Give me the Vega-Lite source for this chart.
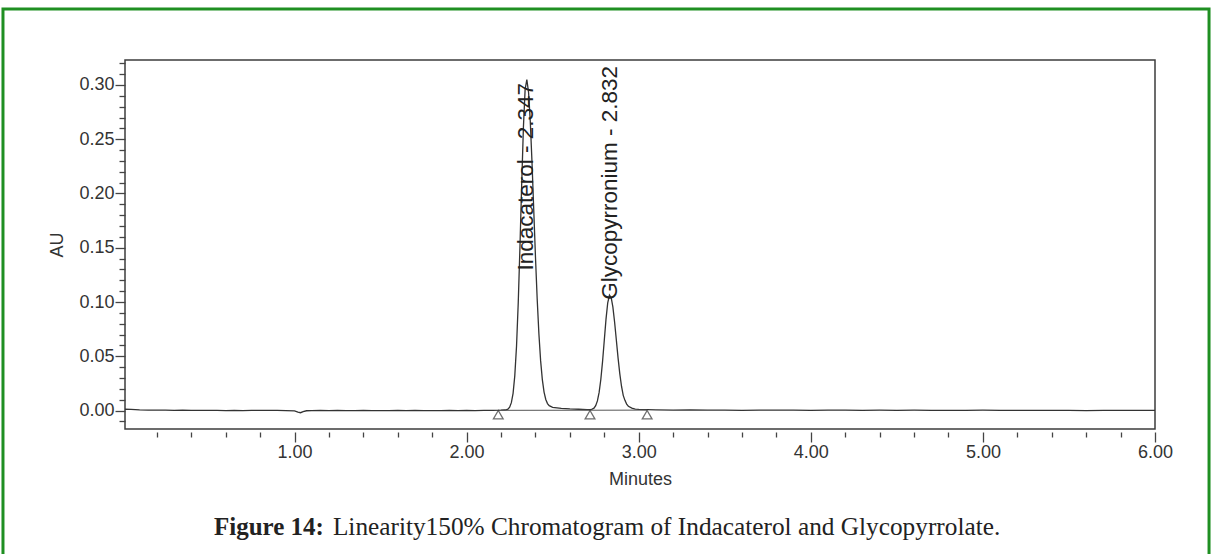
{
  "$schema": "https://vega.github.io/schema/vega-lite/v6.json",
  "width": 1030,
  "height": 369,
  "autosize": "none",
  "padding": {"left": 125, "top": 60, "right": 57, "bottom": 125},
  "background": "white",
  "config": {
    "view": {"stroke": "#3c3c3c", "strokeWidth": 1.5},
    "axis": {"grid": false, "labelFont": "Liberation Sans", "titleFont": "Liberation Sans", "labelColor": "#333", "titleColor": "#333", "tickColor": "#444", "tickWidth": 1.3, "labelFontSize": 18, "titleFontSize": 18, "titleFontWeight": "normal", "labelFlush": false, "labelOverlap": false}
  },
  "title": {
    "text": "Figure 14:",
    "subtitle": "\u200b\u2002\u2002\u2002\u2002\u2002\u2002\u2002\u2002\u2002\u2009Linearity150% Chromatogram of Indacaterol and Glycopyrrolate.",
    "orient": "bottom",
    "anchor": "start",
    "frame": "group",
    "offset": -42,
    "dx": 89,
    "font": "Liberation Serif",
    "fontSize": 25,
    "fontWeight": "bold",
    "color": "#222",
    "subtitleFont": "Liberation Serif",
    "subtitleFontSize": 25.3,
    "subtitleFontWeight": "normal",
    "subtitleColor": "#222",
    "subtitlePadding": -25
  },
  "datasets": {
    "signal": [
      {"t": 0.015, "v": 0.0012}, {"t": 0.05, "v": 0.0010}, {"t": 0.10, "v": 0.0006}, {"t": 0.15, "v": 0.0004},
      {"t": 0.20, "v": 0.0003}, {"t": 0.25, "v": 0.0003}, {"t": 0.30, "v": 0.0002}, {"t": 0.35, "v": 0.0003},
      {"t": 0.40, "v": 0.0002}, {"t": 0.45, "v": 0.0001}, {"t": 0.50, "v": 0.0002}, {"t": 0.55, "v": 0.0001},
      {"t": 0.60, "v": 0.0000}, {"t": 0.65, "v": 0.0001}, {"t": 0.70, "v": 0.0000}, {"t": 0.75, "v": 0.0001},
      {"t": 0.80, "v": 0.0002}, {"t": 0.85, "v": 0.0001}, {"t": 0.90, "v": 0.0001}, {"t": 0.95, "v": 0.0000},
      {"t": 1.00, "v": -0.0003}, {"t": 1.02, "v": -0.0014}, {"t": 1.035, "v": -0.0020}, {"t": 1.05, "v": -0.0010},
      {"t": 1.07, "v": -0.0002}, {"t": 1.10, "v": 0.0000}, {"t": 1.15, "v": 0.0001}, {"t": 1.20, "v": 0.0000},
      {"t": 1.25, "v": 0.0001}, {"t": 1.30, "v": -0.0001}, {"t": 1.35, "v": 0.0000}, {"t": 1.40, "v": 0.0001},
      {"t": 1.45, "v": 0.0000}, {"t": 1.50, "v": -0.0001}, {"t": 1.55, "v": 0.0000}, {"t": 1.60, "v": 0.0001},
      {"t": 1.65, "v": 0.0000}, {"t": 1.70, "v": 0.0001}, {"t": 1.75, "v": 0.0000}, {"t": 1.80, "v": -0.0001},
      {"t": 1.85, "v": 0.0000}, {"t": 1.90, "v": 0.0001}, {"t": 1.95, "v": 0.0000}, {"t": 2.00, "v": 0.0001},
      {"t": 2.05, "v": 0.0000}, {"t": 2.10, "v": 0.0001}, {"t": 2.15, "v": 0.0002}, {"t": 2.20, "v": 0.0003},
      {"t": 2.22, "v": 0.0005}, {"t": 2.23, "v": 0.0006}, {"t": 2.24, "v": 0.0013}, {"t": 2.25, "v": 0.0031},
      {"t": 2.26, "v": 0.0073}, {"t": 2.27, "v": 0.0159}, {"t": 2.28, "v": 0.0322}, {"t": 2.29, "v": 0.0593},
      {"t": 2.30, "v": 0.0993}, {"t": 2.31, "v": 0.1510}, {"t": 2.32, "v": 0.2083}, {"t": 2.33, "v": 0.2607},
      {"t": 2.34, "v": 0.2959}, {"t": 2.35, "v": 0.3050}, {"t": 2.36, "v": 0.2931}, {"t": 2.37, "v": 0.2662},
      {"t": 2.38, "v": 0.2285}, {"t": 2.39, "v": 0.1853}, {"t": 2.40, "v": 0.1420}, {"t": 2.41, "v": 0.1030},
      {"t": 2.42, "v": 0.0707}, {"t": 2.43, "v": 0.0460}, {"t": 2.44, "v": 0.0285}, {"t": 2.45, "v": 0.0170},
      {"t": 2.46, "v": 0.0102}, {"t": 2.47, "v": 0.0064}, {"t": 2.48, "v": 0.0045}, {"t": 2.50, "v": 0.0030},
      {"t": 2.55, "v": 0.0020}, {"t": 2.60, "v": 0.0015}, {"t": 2.65, "v": 0.0012}, {"t": 2.70, "v": 0.0009},
      {"t": 2.72, "v": 0.0009}, {"t": 2.73, "v": 0.0013}, {"t": 2.74, "v": 0.0022}, {"t": 2.75, "v": 0.0045},
      {"t": 2.76, "v": 0.0089}, {"t": 2.77, "v": 0.0167}, {"t": 2.78, "v": 0.0288}, {"t": 2.79, "v": 0.0453},
      {"t": 2.80, "v": 0.0648}, {"t": 2.81, "v": 0.0842}, {"t": 2.82, "v": 0.0993}, {"t": 2.83, "v": 0.1064},
      {"t": 2.84, "v": 0.1042}, {"t": 2.85, "v": 0.0953}, {"t": 2.86, "v": 0.0814}, {"t": 2.87, "v": 0.0650},
      {"t": 2.88, "v": 0.0485}, {"t": 2.89, "v": 0.0340}, {"t": 2.90, "v": 0.0224}, {"t": 2.91, "v": 0.0140},
      {"t": 2.92, "v": 0.0094}, {"t": 2.93, "v": 0.0060}, {"t": 2.94, "v": 0.0040}, {"t": 2.96, "v": 0.0022},
      {"t": 2.98, "v": 0.0014}, {"t": 3.00, "v": 0.0010}, {"t": 3.05, "v": 0.0008}, {"t": 3.10, "v": 0.0006},
      {"t": 3.20, "v": 0.0004}, {"t": 3.30, "v": 0.0005}, {"t": 3.40, "v": 0.0003}, {"t": 3.50, "v": 0.0004},
      {"t": 3.60, "v": 0.0002}, {"t": 3.70, "v": 0.0004}, {"t": 3.80, "v": 0.0003}, {"t": 3.90, "v": 0.0004},
      {"t": 4.00, "v": 0.0002}, {"t": 4.10, "v": 0.0003}, {"t": 4.20, "v": 0.0004}, {"t": 4.30, "v": 0.0002},
      {"t": 4.40, "v": 0.0003}, {"t": 4.50, "v": 0.0001}, {"t": 4.60, "v": 0.0003}, {"t": 4.70, "v": 0.0002},
      {"t": 4.80, "v": 0.0002}, {"t": 4.90, "v": 0.0001}, {"t": 5.00, "v": 0.0003}, {"t": 5.10, "v": 0.0002},
      {"t": 5.20, "v": 0.0001}, {"t": 5.30, "v": 0.0002}, {"t": 5.40, "v": 0.0001}, {"t": 5.50, "v": 0.0002},
      {"t": 5.60, "v": 0.0000}, {"t": 5.70, "v": 0.0001}, {"t": 5.80, "v": 0.0002}, {"t": 5.90, "v": 0.0001},
      {"t": 6.00, "v": 0.0001}
    ],
    "integration": [
      {"t": 2.184, "v": 0.0002}, {"t": 2.717, "v": 0.0003}, {"t": 3.049, "v": 0.0004}
    ],
    "marks": [
      {"t": 2.184, "v": -0.0038}, {"t": 2.717, "v": -0.0038}, {"t": 3.049, "v": -0.0038}
    ],
    "peaks": [
      {"name": "Indacaterol - 2.347", "rt": 2.347, "labelAt": 0.129},
      {"name": "Glycopyrronium - 2.832", "rt": 2.832, "labelAt": 0.102}
    ]
  },
  "layer": [
    {
      "data": {"name": "signal"},
      "mark": {"type": "line", "stroke": "#333", "strokeWidth": 1.3},
      "encoding": {
        "x": {"field": "t", "type": "quantitative", "scale": {"domain": [0.015, 6], "nice": false, "zero": false},
          "axis": {"orient": "bottom", "values": [1, 2, 3, 4, 5, 6], "format": ".2f", "title": "Minutes", "offset": 3, "domain": false, "tickSize": 10, "labelPadding": 1, "titlePadding": 9}},
        "y": {"field": "v", "type": "quantitative", "scale": {"domain": [-0.017, 0.323], "nice": false, "zero": false},
          "axis": {"orient": "left", "values": [0, 0.05, 0.1, 0.15, 0.2, 0.25, 0.3], "format": ".2f", "title": "AU", "domain": false, "tickSize": 10, "labelPadding": 1, "titlePadding": 12}}
      }
    },
    {
      "data": {"name": "integration"},
      "mark": {"type": "line", "stroke": "#555", "strokeWidth": 1},
      "encoding": {
        "x": {"field": "t", "type": "quantitative", "scale": {"domain": [0.015, 6], "nice": false, "zero": false},
          "axis": {"orient": "bottom", "values": [0.2, 0.4, 0.6, 0.8, 1.2, 1.4, 1.6, 1.8, 2.2, 2.4, 2.6, 2.8, 3.2, 3.4, 3.6, 3.8, 4.2, 4.4, 4.6, 4.8, 5.2, 5.4, 5.6, 5.8], "labels": false, "title": null, "offset": 3, "domain": false, "tickSize": 5}},
        "y": {"field": "v", "type": "quantitative", "scale": {"domain": [-0.017, 0.323], "nice": false, "zero": false},
          "axis": {"orient": "left", "values": [-0.01, 0.01, 0.02, 0.03, 0.04, 0.06, 0.07, 0.08, 0.09, 0.11, 0.12, 0.13, 0.14, 0.16, 0.17, 0.18, 0.19, 0.21, 0.22, 0.23, 0.24, 0.26, 0.27, 0.28, 0.29, 0.31, 0.32], "labels": false, "title": null, "domain": false, "tickSize": 6}}
      }
    },
    {
      "data": {"name": "marks"},
      "mark": {"type": "point", "shape": "triangle-up", "filled": false, "stroke": "#333", "strokeWidth": 1.3, "size": 95},
      "encoding": {
        "x": {"field": "t", "type": "quantitative", "scale": {"domain": [0.015, 6], "nice": false, "zero": false}, "axis": null},
        "y": {"field": "v", "type": "quantitative", "scale": {"domain": [-0.017, 0.323], "nice": false, "zero": false}, "axis": null}
      }
    },
    {
      "data": {"name": "peaks"},
      "mark": {"type": "text", "angle": 270, "align": "left", "baseline": "middle", "font": "Liberation Sans", "fontSize": 22.5, "color": "#222"},
      "encoding": {
        "x": {"field": "rt", "type": "quantitative", "scale": {"domain": [0.015, 6], "nice": false, "zero": false}, "axis": null},
        "y": {"field": "labelAt", "type": "quantitative", "scale": {"domain": [-0.017, 0.323], "nice": false, "zero": false}, "axis": null},
        "text": {"field": "name"}
      }
    },
    {
      "data": {"values": [{}]},
      "mark": {"type": "rect", "fillOpacity": 0, "stroke": "#1f8f22", "strokeWidth": 3, "clip": false},
      "encoding": {
        "x": {"datum": -0.694, "type": "quantitative", "scale": {"domain": [0.015, 6], "nice": false, "zero": false}, "axis": null},
        "x2": {"datum": 6.314},
        "y": {"datum": 0.370, "type": "quantitative", "scale": {"domain": [-0.017, 0.323], "nice": false, "zero": false}, "axis": null},
        "y2": {"datum": -0.134}
      }
    }
  ],
  "resolve": {"axis": {"x": "independent", "y": "independent"}}
}
